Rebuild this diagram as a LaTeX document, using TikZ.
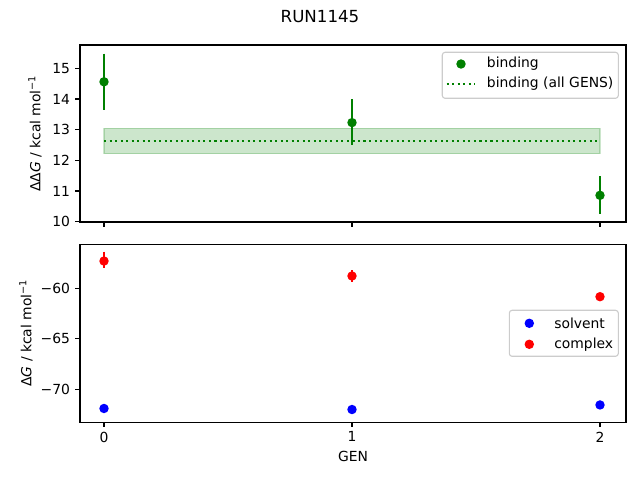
\documentclass[tikz,border=0pt]{standalone}
\usepackage{fontspec}
\setmainfont{DejaVu Sans}
\definecolor{mplgreen}{RGB}{0,128,0}
\definecolor{mplblue}{RGB}{0,0,255}
\definecolor{mplred}{RGB}{255,0,0}
\begin{document}
\begin{tikzpicture}[x=0.72pt,y=-0.72pt,
  declare function={ty(\v)=221.7-30.68*(\v-10); by(\v)=288.3-10.1*(\v+60); gx(\g)=104+248*\g;},
  frame/.style={line width=0.8pt},
  tickmark/.style={line width=0.8pt},
  lbl/.style={font=\fontsize{10}{12}\selectfont, inner sep=0pt},
  ebar/.style={line width=1.5pt},
  dot/.style={circle, inner sep=0pt, minimum size=6.8pt, draw=none},
  legbox/.style={draw=black!20, fill=white, fill opacity=0.8, rounded corners=2pt, line width=0.8pt},
  dotline/.style={mplgreen, line width=1.5pt, dash pattern=on 1.5pt off 2.475pt}]
\useasboundingbox (0,0) rectangle (640,480);

% title
\node[font=\fontsize{12}{14}\selectfont, inner sep=0pt] (title) at (320,17) {RUN1145};

% ---------- top axes ----------
\coordinate (tTL) at (80,45);
\coordinate (tBR) at (626,222);
% band
\fill[mplgreen, fill opacity=0.2] (104,{ty(13.04)}) rectangle (600,{ty(12.22)});
\draw[mplgreen, draw opacity=0.2, line width=1pt] (104,{ty(13.04)}) rectangle (600,{ty(12.22)});
\coordinate (avgL) at (104,{ty(12.63)});
\coordinate (avgR) at (600,{ty(12.63)});
\draw[dotline] (avgL) -- (avgR);
% error bars
\coordinate (b0t) at ({gx(0)},{ty(15.48)}); \coordinate (b0b) at ({gx(0)},{ty(13.65)});
\coordinate (b1t) at ({gx(1)},{ty(13.99)}); \coordinate (b1b) at ({gx(1)},{ty(12.51)});
\coordinate (b2t) at ({gx(2)},{ty(11.48)}); \coordinate (b2b) at ({gx(2)},{ty(10.26)});
\draw[ebar, mplgreen] (b0t) -- (b0b);
\draw[ebar, mplgreen] (b1t) -- (b1b);
\draw[ebar, mplgreen] (b2t) -- (b2b);
\node[dot, fill=mplgreen] (b0) at ({gx(0)},{ty(14.56)}) {};
\node[dot, fill=mplgreen] (b1) at ({gx(1)},{ty(13.23)}) {};
\node[dot, fill=mplgreen] (b2) at ({gx(2)},{ty(10.86)}) {};
\draw[frame] (tTL) rectangle (tBR);
% y ticks
\foreach \v in {10,...,15} {
  \draw[tickmark] (80,{ty(\v)}) -- ++(-4.86,0);
  \node[lbl, anchor=east] (tyl\v) at (70.3,{ty(\v)}) {\v};
}
% x ticks (no labels)
\foreach \g in {0,1,2} {
  \draw[tickmark] ({gx(\g)},222) -- ++(0,4.86);
}
\node[lbl, rotate=90] (tylab) at (35,133.5) {ΔΔ\textit{G} / kcal mol\textsuperscript{−1}};
% legend
\draw[legbox] (442.3,52.3) rectangle (618.3,98.3);
\node[dot, fill=mplgreen] (lgb) at (461,64) {};
\node[lbl, anchor=west] (lgbt) at (486.7,64) {binding};
\coordinate (lgaL) at (446.7,84);
\coordinate (lgaR) at (475.3,84);
\draw[dotline] (lgaL) -- (lgaR);
\node[lbl, anchor=west] (lgat) at (486.7,84) {binding (all GENS)};

% ---------- bottom axes ----------
\coordinate (bTL) at (80,244.3);
\coordinate (bBR) at (626,422.3);
\coordinate (c0t) at ({gx(0)},{by(-56.38)}); \coordinate (c0b) at ({gx(0)},{by(-58.0)});
\coordinate (c1t) at ({gx(1)},{by(-58.19)}); \coordinate (c1b) at ({gx(1)},{by(-59.35)});
\coordinate (c2t) at ({gx(2)},{by(-60.5)}); \coordinate (c2b) at ({gx(2)},{by(-61.15)});
\draw[ebar, mplred] (c0t) -- (c0b);
\draw[ebar, mplred] (c1t) -- (c1b);
\draw[ebar, mplred] (c2t) -- (c2b);
\node[dot, fill=mplred] (c0) at ({gx(0)},{by(-57.3)}) {};
\node[dot, fill=mplred] (c1) at ({gx(1)},{by(-58.78)}) {};
\node[dot, fill=mplred] (c2) at ({gx(2)},{by(-60.83)}) {};
\node[dot, fill=mplblue] (s0) at ({gx(0)},{by(-71.9)}) {};
\node[dot, fill=mplblue] (s1) at ({gx(1)},{by(-72.0)}) {};
\node[dot, fill=mplblue] (s2) at ({gx(2)},{by(-71.55)}) {};
\draw[frame] (bTL) rectangle (bBR);
\foreach \v/\t in {-60/−60,-65/−65,-70/−70} {
  \draw[tickmark] (80,{by(\v)}) -- ++(-4.86,0);
  \node[lbl, anchor=east] at (70.3,{by(\v)}) {\t};
}
\foreach \g in {0,1,2} {
  \draw[tickmark] ({gx(\g)},422.3) -- ++(0,4.86);
  \node[lbl, anchor=north] (bxl\g) at ({gx(\g)},431.5) {\g};
}
\node[lbl, rotate=90] (bylab) at (26,333) {Δ\textit{G} / kcal mol\textsuperscript{−1}};
\node[lbl, anchor=north] (xlab) at (353,451) {GEN};
% legend
\draw[legbox] (509.3,310.3) rectangle (618.3,356.3);
\node[dot, fill=mplblue] (lgs) at (529.3,323.3) {};
\node[lbl, anchor=west] (lgst) at (554,323.3) {solvent};
\node[dot, fill=mplred] (lgc) at (529.3,344.3) {};
\node[lbl, anchor=west] (lgct) at (554,344.3) {complex};
\end{tikzpicture}
\end{document}
